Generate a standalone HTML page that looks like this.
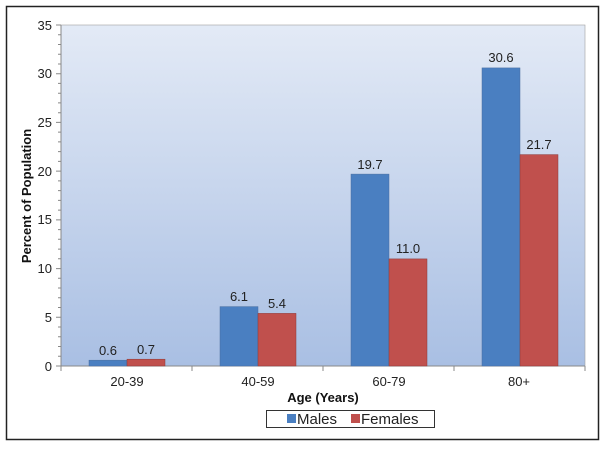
<!DOCTYPE html><html><head><style>body{margin:0;background:#fff}</style></head><body>
<svg width="604" height="447" xmlns="http://www.w3.org/2000/svg" font-family="Liberation Sans, sans-serif">
<defs><linearGradient id="g" x1="0" y1="0" x2="0" y2="1"><stop offset="0" stop-color="#e3eaf6"/><stop offset="1" stop-color="#a9bfe3"/></linearGradient></defs>
<rect x="6.5" y="6.5" width="592" height="433" fill="#fff" stroke="#222" stroke-width="1.5"/>
<rect x="61" y="25" width="524" height="341" fill="url(#g)" stroke="#a0a0a0" stroke-width="0.6"/>
<g stroke="#888" stroke-width="1">
<line x1="61" y1="25" x2="61" y2="366"/><line x1="61" y1="366" x2="585" y2="366"/>
<path d="M56 25h5M56 73.7h5M56 122.4h5M56 171.1h5M56 219.9h5M56 268.6h5M56 317.3h5M56 366h5"/>
<path d="M58 34.7h3M58 44.5h3M58 54.2h3M58 64h3M58 83.4h3M58 93.2h3M58 102.9h3M58 112.7h3M58 132.1h3M58 141.9h3M58 151.6h3M58 161.4h3M58 180.9h3M58 190.6h3M58 200.4h3M58 210.1h3M58 229.6h3M58 239.3h3M58 249.1h3M58 258.8h3M58 278.3h3M58 288h3M58 297.8h3M58 307.5h3M58 327h3M58 336.7h3M58 346.5h3M58 356.3h3"/>
<path d="M61 366v5M192 366v5M323 366v5M454 366v5M585 366v5"/>
</g>
<g font-size="13" fill="#222" text-anchor="end">
<text x="52" y="30">35</text><text x="52" y="78">30</text><text x="52" y="127">25</text><text x="52" y="176">20</text><text x="52" y="224">15</text><text x="52" y="273">10</text><text x="52" y="322">5</text><text x="52" y="371">0</text>
</g>
<g stroke="#4a6fa0" stroke-width="0.5">
<rect x="89" y="360.2" width="38" height="5.8" fill="#4a7fc1"/><rect x="127" y="359.2" width="38" height="6.8" fill="#c0504d" stroke="#8c3a38"/>
<rect x="220" y="306.6" width="38" height="59.4" fill="#4a7fc1"/><rect x="258" y="313.4" width="38" height="52.6" fill="#c0504d" stroke="#8c3a38"/>
<rect x="351" y="174.1" width="38" height="191.9" fill="#4a7fc1"/><rect x="389" y="258.9" width="38" height="107.1" fill="#c0504d" stroke="#8c3a38"/>
<rect x="482" y="67.9" width="38" height="298.1" fill="#4a7fc1"/><rect x="520" y="154.6" width="38" height="211.4" fill="#c0504d" stroke="#8c3a38"/>
</g>
<g font-size="13" fill="#222" text-anchor="middle">
<text x="108" y="355">0.6</text><text x="146" y="354">0.7</text>
<text x="239" y="301">6.1</text><text x="277" y="308">5.4</text>
<text x="370" y="169">19.7</text><text x="408" y="253">11.0</text>
<text x="501" y="62">30.6</text><text x="539" y="149">21.7</text>
<text x="127" y="386">20-39</text><text x="258" y="386">40-59</text><text x="389" y="386">60-79</text><text x="519" y="386">80+</text>
</g>
<text x="323" y="402" font-size="13" font-weight="bold" text-anchor="middle" fill="#111">Age (Years)</text>
<text transform="translate(31,196) rotate(-90)" font-size="13" font-weight="bold" text-anchor="middle" fill="#111">Percent of Population</text>
<rect x="266.5" y="410.5" width="168" height="17" fill="#fff" stroke="#333"/>
<rect x="287" y="414" width="9" height="9" fill="#4a7fc1"/><text x="297" y="424" font-size="15" fill="#222">Males</text>
<rect x="351" y="414" width="9" height="9" fill="#c0504d"/><text x="361" y="424" font-size="15" fill="#222">Females</text>
</svg></body></html>
